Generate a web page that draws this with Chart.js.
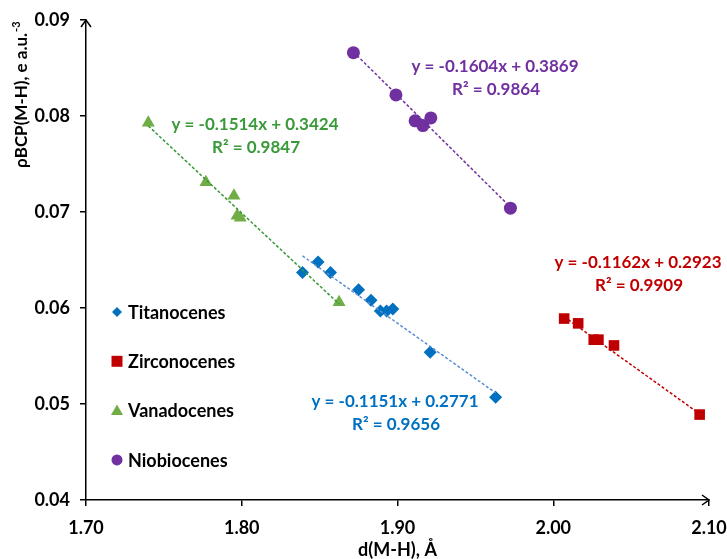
<!DOCTYPE html>
<html>
<head>
<meta charset="utf-8">
<script src="https://cdn.jsdelivr.net/npm/chart.js@4/dist/chart.umd.min.js"></script>
<style>
  html, body { margin: 0; padding: 0; background: #fff; }
</style>
</head>
<body>
<canvas id="chart" width="727" height="559"></canvas>
<script>
// series names and colours
const NAMES = ["Titanocenes", "Zirconocenes", "Vanadocenes", "Niobiocenes"];
const COLORS = ["#0070C0", "#C00000", "#70AD47", "#7030A0"];
const TREND_COLORS = ["#5B8FD0", "#C00000", "#339933", "#7030A0"];
const TEXT_COLORS = ["#0070C0", "#C00000", "#3A9A3A", "#7030A0"];
const SHAPES = ["rectRot", "rect", "triangle", "circle"];

// d(M-H) / rhoBCP values
const tiX = [1.839, 1.849, 1.857, 1.875, 1.883, 1.889, 1.893, 1.897, 1.921, 1.963];
const tiY = [0.0637, 0.0648, 0.0637, 0.0619, 0.0608, 0.0597, 0.0597, 0.0599, 0.0554, 0.0507];
const zrX = [2.007, 2.016, 2.026, 2.029, 2.039, 2.094];
const zrY = [0.0589, 0.0584, 0.0567, 0.0567, 0.0561, 0.0489];
const vX = [1.740, 1.777, 1.795, 1.797, 1.799, 1.8625];
const vY = [0.0793, 0.0731, 0.0717, 0.0696, 0.0694, 0.0606];
const nbX = [1.8717, 1.899, 1.9113, 1.9163, 1.9214, 1.9725];
const nbY = [0.0866, 0.0822, 0.0795, 0.0790, 0.0798, 0.0704];

// linear trendlines as printed on the chart
const SLOPES = [-0.1151, -0.1162, -0.1514, -0.1604];
const INTERCEPTS = [0.2771, 0.2923, 0.3424, 0.3869];
const R2 = ["0.9656", "0.9909", "0.9847", "0.9864"];

const X_TICKS = [1.70, 1.80, 1.90, 2.00, 2.10];
const Y_TICKS = [0.04, 0.05, 0.06, 0.07, 0.08, 0.09];

const FONT = "Lato, 'Open Sans', sans-serif";
const W = "bold";
const xs = [tiX, zrX, vX, nbX];
const ys = [tiY, zrY, vY, nbY];

const scatterSets = NAMES.map((name, i) => ({
  type: "scatter",
  label: name,
  data: xs[i].map((x, k) => ({ x, y: ys[i][k] })),
  backgroundColor: COLORS[i],
  borderColor: COLORS[i],
  borderWidth: 0,
  pointStyle: SHAPES[i],
  pointRadius: SHAPES[i] === "rect" ? 7.5 : SHAPES[i] === "triangle" ? 7.5 : 6.5,
  order: 2,
}));

const trendSets = NAMES.map((name, i) => {
  const lo = Math.min(...xs[i]), hi = Math.max(...xs[i]);
  return {
    type: "line",
    label: name + " trend",
    data: [lo, hi].map(x => ({ x, y: SLOPES[i] * x + INTERCEPTS[i] })),
    borderColor: TREND_COLORS[i],
    borderWidth: 1.5,
    borderDash: [3, 2],
    pointRadius: 0,
    fill: false,
    order: 1,
  };
});

// equation label positions (px centres)
const LABEL_POS = [[395, 402], [638, 263], [255, 125], [495, 67]];

const extras = {
  id: "extras",
  afterDraw(chart) {
    const ctx = chart.ctx;
    const a = chart.chartArea;
    ctx.save();
    // axis arrows
    ctx.strokeStyle = "#000";
    ctx.lineWidth = 1.5;
    ctx.beginPath();
    ctx.moveTo(a.left - 5, a.top + 7); ctx.lineTo(a.left, a.top); ctx.lineTo(a.left + 5, a.top + 7);
    ctx.moveTo(a.right - 7, a.bottom - 5); ctx.lineTo(a.right, a.bottom); ctx.lineTo(a.right - 7, a.bottom + 5);
    ctx.stroke();

    // trendline equations
    ctx.font = W + " 17px " + FONT;
    ctx.textAlign = "center";
    ctx.textBaseline = "middle";
    NAMES.forEach((n, i) => {
      const [px, py] = LABEL_POS[i];
      const sign = INTERCEPTS[i] >= 0 ? "+" : "-";
      ctx.fillStyle = TEXT_COLORS[i];
      ctx.fillText("y = " + SLOPES[i].toFixed(4) + "x " + sign + " " + Math.abs(INTERCEPTS[i]).toFixed(4), px, py);
      ctx.fillText("R\u00b2 = " + R2[i], px + 1, py + 23);
    });

    // legend inside plot
    ctx.textAlign = "left";
    ctx.font = W + " 18px " + FONT;
    NAMES.forEach((n, i) => {
      const mx = 117, my = 312 + i * 49.3;
      ctx.fillStyle = COLORS[i];
      ctx.beginPath();
      if (SHAPES[i] === "rectRot") {
        ctx.moveTo(mx - 5, my); ctx.lineTo(mx, my - 5); ctx.lineTo(mx + 5, my); ctx.lineTo(mx, my + 5);
      } else if (SHAPES[i] === "rect") {
        ctx.rect(mx - 5.5, my - 5.5, 11, 11);
      } else if (SHAPES[i] === "triangle") {
        ctx.moveTo(mx, my - 6); ctx.lineTo(mx + 6, my + 4.5); ctx.lineTo(mx - 6, my + 4.5);
      } else {
        ctx.arc(mx, my, 5.5, 0, Math.PI * 2);
      }
      ctx.closePath();
      ctx.fill();
      ctx.fillStyle = "#000";
      ctx.fillText(n, 128, my + 1);
    });

    // y axis title, top aligned like the original
    ctx.translate(22, 168);
    ctx.rotate(-Math.PI / 2);
    ctx.fillStyle = "#000";
    ctx.textBaseline = "middle";
    ctx.font = W + " 17px " + FONT;
    const main = "\u03c1BCP(M-H), e a.u.";
    ctx.fillText(main, 0, 0);
    const w = ctx.measureText(main).width;
    ctx.font = W + " 11px " + FONT;
    ctx.fillText("-3", w + 1, -6);
    ctx.restore();
  },
};

const tickFont = { family: FONT, size: 18, weight: W };

new Chart(document.getElementById("chart"), {
  data: { datasets: [...trendSets, ...scatterSets] },
  options: {
    responsive: false,
    animation: false,
    layout: { padding: { top: 20, right: 18, left: 0, bottom: 0 } },
    plugins: { legend: { display: false }, tooltip: { enabled: false } },
    scales: {
      x: {
        type: "linear",
        min: 1.7, max: 2.1,
        afterBuildTicks: s => { s.ticks = X_TICKS.map(v => ({ value: v })); },
        afterFit: s => { s.height = 59; s.paddingLeft = 0; s.paddingRight = 0; },
        ticks: { callback: v => v.toFixed(2), color: "#000", font: tickFont, padding: 11, maxRotation: 0 },
        grid: { drawOnChartArea: false, drawTicks: true, tickLength: 6, color: "#000", lineWidth: 1.5 },
        border: { display: true, color: "#000", width: 1.5 },
        title: { display: true, text: "d(M-H), \u00c5", color: "#000", font: tickFont, padding: { top: 0, bottom: -2 } },
      },
      y: {
        type: "linear",
        min: 0.04, max: 0.09,
        afterBuildTicks: s => { s.ticks = Y_TICKS.map(v => ({ value: v })); },
        afterFit: s => { s.width = 86; s.paddingTop = 0; s.paddingBottom = 0; },
        ticks: { callback: v => v.toFixed(2), color: "#000", font: tickFont, padding: 10 },
        grid: { drawOnChartArea: false, drawTicks: true, tickLength: 6, color: "#000", lineWidth: 1.5 },
        border: { display: true, color: "#000", width: 1.5 },
      },
    },
  },
  plugins: [extras],
});
</script>
</body>
</html>
